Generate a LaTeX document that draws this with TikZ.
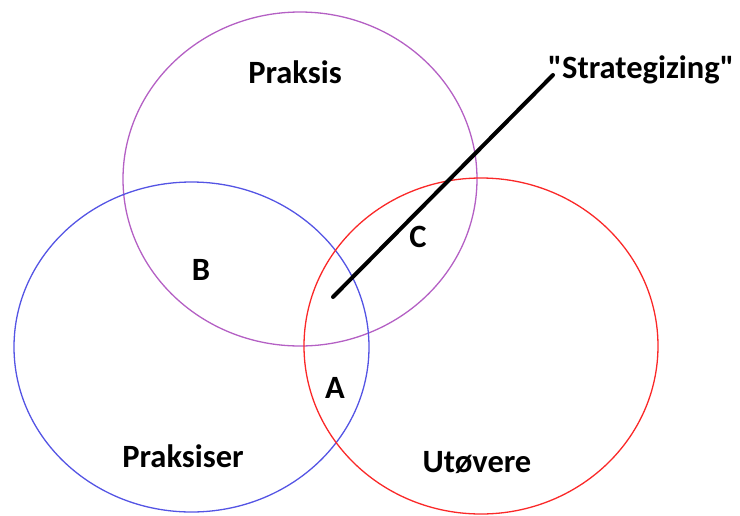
\documentclass[tikz,border=0pt]{standalone}
\usepackage{fontspec}
\setmainfont{Carlito}[Ligatures=TeXOff]
\begin{document}
\begin{tikzpicture}[x=1pt,y=-1pt,
  lbl/.style={font=\fontsize{32.5}{38}\selectfont\bfseries, anchor=base, inner sep=0pt},
  ring/.style={line width=1.3pt}]
\definecolor{cpurple}{RGB}{180,96,196}
\definecolor{cblue}{RGB}{84,84,228}
\definecolor{cred}{RGB}{250,40,40}
\useasboundingbox (0,0) rectangle (740,515);
\draw[ring, cpurple] (300,179) ellipse [x radius=177, y radius=167];
\draw[ring, cblue] (191.5,347) ellipse [x radius=177.5, y radius=165];
\draw[ring, cred] (481,346) ellipse [x radius=177, y radius=168];
\coordinate (s1) at (333,297);
\coordinate (s2) at (553,75);
\draw[line width=4pt, line cap=round] (s1) -- (s2);
\node[lbl] (praksis) at (295,83) {Praksis};
\node[lbl] (strat) at (641,78) {"Strategizing"};
\node[lbl] (b) at (201,280) {B};
\node[lbl] (c) at (418,247) {C};
\node[lbl] (a) at (335,398) {A};
\node[lbl] (praksiser) at (183,467) {Praksiser};
\node[lbl] (utovere) at (477,472) {Utøvere};
\end{tikzpicture}
\end{document}
